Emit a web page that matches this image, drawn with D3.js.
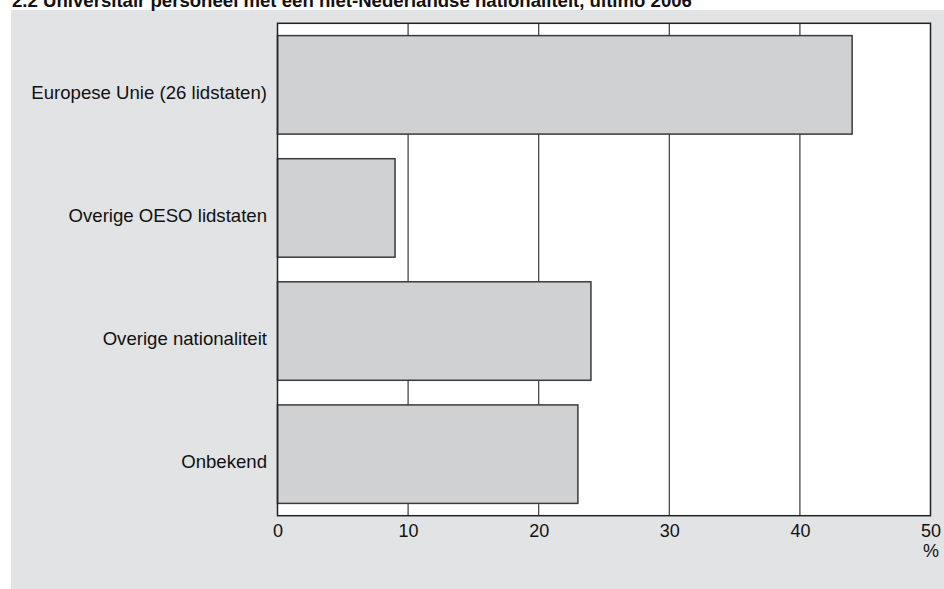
<!DOCTYPE html>
<html>
<head>
<meta charset="utf-8">
<script src="https://cdn.jsdelivr.net/npm/d3@7"></script>
<style>
  html, body { margin: 0; padding: 0; background: #ffffff; }
  svg { display: block; font-family: "Liberation Sans", Arial, Helvetica, sans-serif; }
</style>
</head>
<body>
<svg id="chart" width="944" height="589"></svg>
<script>
const titleText = "2.2  Universitair personeel met een niet-Nederlandse nationaliteit, ultimo 2006";
const categories = ["Europese Unie (26 lidstaten)", "Overige OESO lidstaten", "Overige nationaliteit", "Onbekend"];
const values = [44, 9, 24, 23];
const tickValues = [0, 10, 20, 30, 40, 50];
const unitLabel = "%";

const svg = d3.select("#chart");
const W = 944, H = 589;
const plot = { left: 277.5, right: 930.5, top: 23.3, bottom: 515.7 };

// panel background
svg.append("rect").attr("x", 11).attr("y", 10).attr("width", W - 11).attr("height", H - 10)
  .attr("fill", "#e2e3e5");

// title
svg.append("text").attr("x", 12).attr("y", 6.5)
  .attr("font-size", 18.6).attr("font-weight", "bold").attr("fill", "#111")
  .text(titleText);

const x = d3.scaleLinear().domain([0, 50]).range([plot.left, plot.right]);
const y = d3.scaleBand().domain(categories).range([plot.top, plot.bottom])
  .paddingInner(0.2).paddingOuter(0.1);

// plot area
svg.append("rect").attr("x", plot.left).attr("y", plot.top)
  .attr("width", plot.right - plot.left).attr("height", plot.bottom - plot.top)
  .attr("fill", "#ffffff");

// gridlines
svg.append("g").selectAll("line").data(tickValues.filter(d => d > 0 && d < 50)).join("line")
  .attr("x1", d => x(d)).attr("x2", d => x(d))
  .attr("y1", plot.top).attr("y2", plot.bottom)
  .attr("stroke", "#3a3a3a").attr("stroke-width", 1.2);

// bars
svg.append("g").selectAll("rect").data(categories).join("rect")
  .attr("x", x(0)).attr("y", d => y(d))
  .attr("width", (d, i) => x(values[i]) - x(0))
  .attr("height", y.bandwidth())
  .attr("fill", "#d0d1d3").attr("stroke", "#3a3a3a").attr("stroke-width", 1.5);

// plot border
svg.append("rect").attr("x", plot.left).attr("y", plot.top)
  .attr("width", plot.right - plot.left).attr("height", plot.bottom - plot.top)
  .attr("fill", "none").attr("stroke", "#222").attr("stroke-width", 1.5);

// category labels
svg.append("g").selectAll("text").data(categories).join("text")
  .attr("x", 267).attr("y", d => y(d) + y.bandwidth() / 2 + 14)
  .attr("text-anchor", "end").attr("font-size", 18.6).attr("fill", "#111")
  .text(d => d);

// x axis labels
const xAxis = d3.axisBottom(x).tickValues(tickValues).tickSize(0).tickPadding(0);
const gx = svg.append("g").attr("transform", `translate(0,${plot.bottom})`).call(xAxis);
gx.select(".domain").remove();
gx.selectAll("text").attr("font-size", 18).attr("fill", "#111")
  .attr("font-family", "Liberation Sans, Arial, sans-serif")
  .attr("dy", null).attr("y", 21.6);

svg.append("text").attr("x", 939).attr("y", 557)
  .attr("text-anchor", "end").attr("font-size", 18).attr("fill", "#111")
  .text(unitLabel);
</script>
</body>
</html>
